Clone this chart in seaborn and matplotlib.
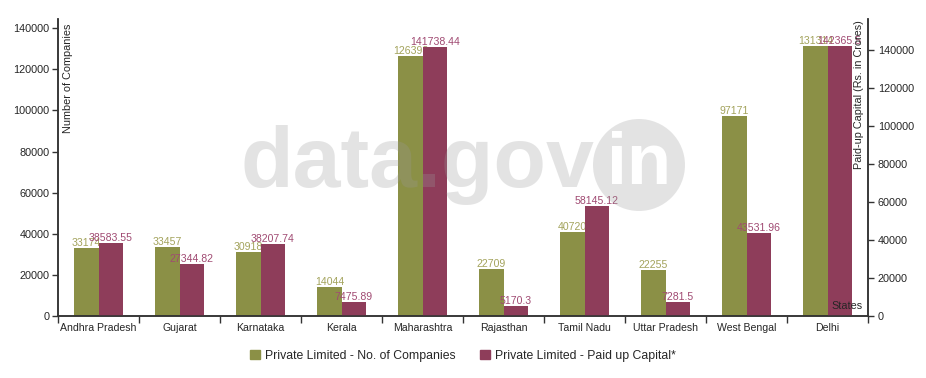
import matplotlib
matplotlib.use("Agg")
import matplotlib.pyplot as plt
import matplotlib.patches as mpatches
import seaborn as sns
import pandas as pd
import numpy as np

states = ["Andhra Pradesh", "Gujarat", "Karnataka", "Kerala", "Maharashtra",
          "Rajasthan", "Tamil Nadu", "Uttar Pradesh", "West Bengal", "Delhi"]
companies = [33174, 33457, 30918, 14044, 126398, 22709, 40720, 22255, 97171, 131314]
capital = [38583.55, 27344.82, 38207.74, 7475.89, 141738.44, 5170.3, 58145.12, 7281.5, 43531.96, 142365.5]
series_names = ["Private Limited - No. of Companies", "Private Limited - Paid up Capital*"]
left_ticks = [0, 20000, 40000, 60000, 80000, 100000, 120000, 140000]
right_ticks = [0, 20000, 40000, 60000, 80000, 100000, 120000, 140000]

GREEN = "#8b9046"
RED = "#8e3d5a"
GREEN_TXT = "#a3a35c"
RED_TXT = "#a04a72"

sns.set_style("white")
plt.rcParams["font.family"] = ["Liberation Sans", "DejaVu Sans"]

W, H = 926, 378
fig = plt.figure(figsize=(W / 100, H / 100), dpi=100)
x0, x1, y0, y1 = 58, 868, 19, 316
ax = fig.add_axes([x0 / W, 1 - y1 / H, (x1 - x0) / W, (y1 - y0) / H])
ax2 = ax.twinx()

n = len(states)
df_c = pd.DataFrame({"State": states * 2,
                     "Series": [series_names[0]] * n + [series_names[1]] * n,
                     "Value": companies + [np.nan] * n})
df_p = pd.DataFrame({"State": states * 2,
                     "Series": [series_names[0]] * n + [series_names[1]] * n,
                     "Value": [np.nan] * n + capital})
pal = {series_names[0]: GREEN, series_names[1]: RED}

sns.barplot(data=df_c, x="State", y="Value", hue="Series", hue_order=series_names,
            palette=pal, saturation=1, width=0.6, gap=0, ax=ax, legend=False,
            errorbar=None, linewidth=0)
sns.barplot(data=df_p, x="State", y="Value", hue="Series", hue_order=series_names,
            palette=pal, saturation=1, width=0.6, gap=0, ax=ax2, legend=False,
            errorbar=None, linewidth=0)

ax.set_ylim(0, max(companies) * 1.1)
ax2.set_ylim(0, max(capital) * 1.1)
ax.set_xlim(-0.5, n - 0.5)

# value labels
ax.bar_label(ax.containers[0], labels=[str(v) for v in companies], padding=0,
             color=GREEN_TXT, fontsize=7.6)
ax2.bar_label(ax2.containers[1], labels=[str(v) for v in capital], padding=0,
              color=RED_TXT, fontsize=7.6)

for a in (ax, ax2):
    a.set_xlabel("")
    a.set_ylabel("")
    for s in a.spines.values():
        s.set_color("#333333")
        s.set_linewidth(1.1)
    a.spines["top"].set_visible(False)

ax.set_yticks(left_ticks)
ax.set_yticklabels([str(t) for t in left_ticks])
ax2.set_yticks(right_ticks)
ax2.set_yticklabels([str(t) for t in right_ticks])
ax.tick_params(axis="y", direction="out", length=4, width=1, color="#333333",
               labelsize=7.8, left=True, pad=2)
ax2.tick_params(axis="y", direction="out", length=4, width=1, color="#333333",
                labelsize=7.8, right=True, pad=3)

ax.set_xticks(range(n))
ax.set_xticklabels(states)
ax.set_xticks(np.arange(-0.5, n, 1.0), minor=True)
ax.tick_params(axis="x", which="major", length=0, labelsize=7.6, pad=5)
ax.tick_params(axis="x", which="minor", length=5, width=1, color="#333333",
               direction="out", bottom=True)

ax2.text(0.0125, 0.985, "Number of Companies", rotation=90, transform=ax2.transAxes,
         ha="center", va="top", fontsize=7.8)
ax2.text(0.9885, 0.995, "Paid-up Capital (Rs. in Crores)", rotation=90,
         transform=ax2.transAxes, ha="center", va="top", fontsize=7.8)
ax2.text(0.993, 0.018, "States", transform=ax2.transAxes, ha="right", va="bottom",
         fontsize=7.8)

# watermark
fig.text(240 / W, 1 - 187 / H, "data.gov", fontsize=62, fontweight="bold",
         color="#9a9a9a", alpha=0.27, ha="left", va="baseline", zorder=10)
circ = mpatches.Circle((639 / 100, (H - 165) / 100), 46 / 100,
                       transform=fig.dpi_scale_trans, color="#9a9a9a", alpha=0.27,
                       zorder=10, linewidth=0)
fig.add_artist(circ)
fig.text(639 / W, 1 - 165 / H, "in", fontsize=52, fontweight="bold", color="white",
         alpha=1.0, ha="center", va="center", zorder=11)

handles = [mpatches.Patch(color=GREEN, label=series_names[0]),
           mpatches.Patch(color=RED, label=series_names[1])]
fig.legend(handles=handles, loc="center", bbox_to_anchor=(0.5, 1 - 356 / H), ncol=2,
           frameon=False, fontsize=8.8, handlelength=0.8, handleheight=0.8,
           handletextpad=0.4, columnspacing=2.0)

fig.savefig("out.png", dpi=100)
